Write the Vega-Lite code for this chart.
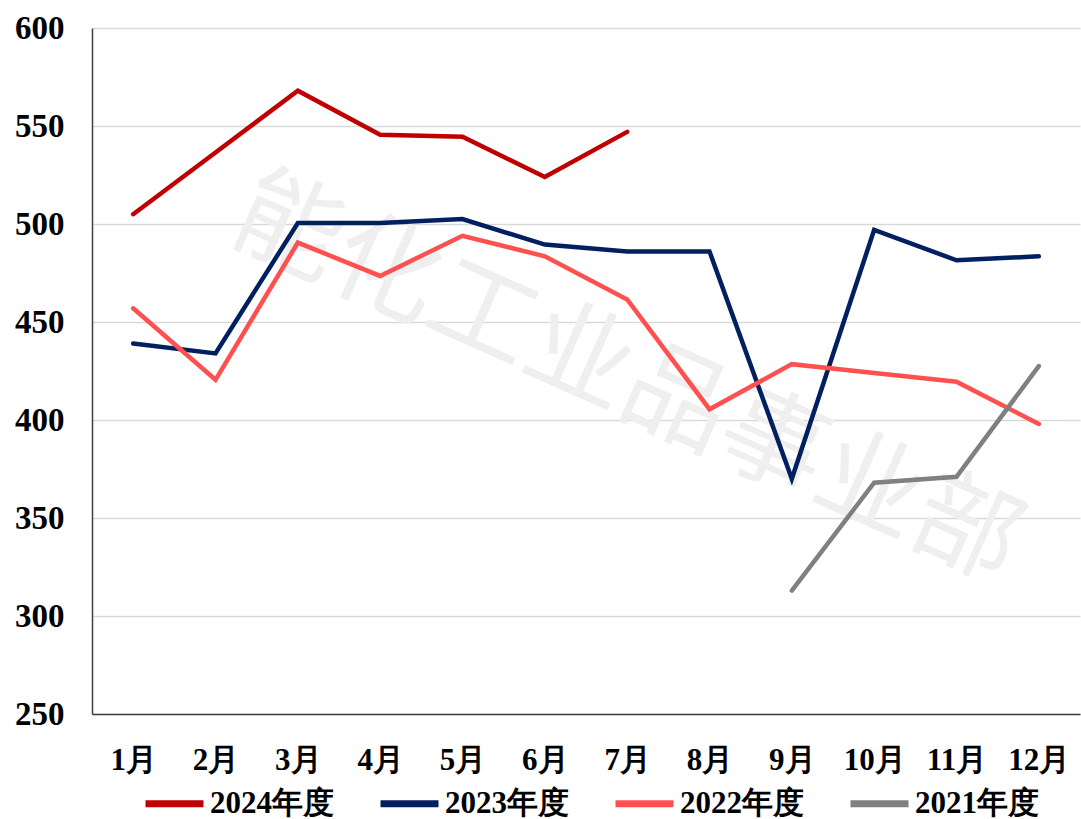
{
  "$schema": "https://vega.github.io/schema/vega-lite/v6.json",
  "width": 988,
  "height": 686,
  "autosize": {"type": "none"},
  "padding": {"left": 92, "top": 28, "right": 1, "bottom": 105},
  "background": "white",
  "config": {
    "view": {"stroke": null},
    "font": "Liberation Serif"
  },
  "datasets": {
    "series": [
      {"month": "1月", "year": "2024年度", "value": 505},
      {"month": "2月", "year": "2024年度", "value": 536.5},
      {"month": "3月", "year": "2024年度", "value": 568},
      {"month": "4月", "year": "2024年度", "value": 545.5},
      {"month": "5月", "year": "2024年度", "value": 544.5},
      {"month": "6月", "year": "2024年度", "value": 524},
      {"month": "7月", "year": "2024年度", "value": 547},
      {"month": "1月", "year": "2023年度", "value": 439},
      {"month": "2月", "year": "2023年度", "value": 434},
      {"month": "3月", "year": "2023年度", "value": 500.5},
      {"month": "4月", "year": "2023年度", "value": 500.5},
      {"month": "5月", "year": "2023年度", "value": 502.5},
      {"month": "6月", "year": "2023年度", "value": 489.5},
      {"month": "7月", "year": "2023年度", "value": 486},
      {"month": "8月", "year": "2023年度", "value": 486},
      {"month": "9月", "year": "2023年度", "value": 370},
      {"month": "10月", "year": "2023年度", "value": 497},
      {"month": "11月", "year": "2023年度", "value": 481.5},
      {"month": "12月", "year": "2023年度", "value": 483.5},
      {"month": "1月", "year": "2022年度", "value": 457},
      {"month": "2月", "year": "2022年度", "value": 420.5},
      {"month": "3月", "year": "2022年度", "value": 490.5},
      {"month": "4月", "year": "2022年度", "value": 473.5},
      {"month": "5月", "year": "2022年度", "value": 494},
      {"month": "6月", "year": "2022年度", "value": 483.5},
      {"month": "7月", "year": "2022年度", "value": 461.5},
      {"month": "8月", "year": "2022年度", "value": 405.5},
      {"month": "9月", "year": "2022年度", "value": 428.5},
      {"month": "10月", "year": "2022年度", "value": 424},
      {"month": "11月", "year": "2022年度", "value": 419.5},
      {"month": "12月", "year": "2022年度", "value": 398},
      {"month": "9月", "year": "2021年度", "value": 313},
      {"month": "10月", "year": "2021年度", "value": 368},
      {"month": "11月", "year": "2021年度", "value": 371},
      {"month": "12月", "year": "2021年度", "value": 427.5}
    ],
    "mark": [
      {"month": "7月", "value": 420, "label": "能化工业品事业部"}
    ]
  },
  "layer": [
    {
      "data": {"name": "mark"},
      "mark": {"type": "text", "angle": 24, "fontSize": 106, "font": "Noto Sans CJK SC", "fontWeight": "normal", "color": "#efefef", "align": "center", "baseline": "middle", "dx": 0},
      "encoding": {
        "x": {"field": "month", "type": "ordinal", "sort": ["1月","2月","3月","4月","5月","6月","7月","8月","9月","10月","11月","12月"]},
        "y": {"field": "value", "type": "quantitative"},
        "text": {"field": "label"}
      }
    },
    {
      "data": {"name": "series"},
      "mark": {"type": "line", "strokeWidth": 4.5, "strokeJoin": "miter", "strokeCap": "round"},
      "encoding": {
        "x": {
          "field": "month", "type": "ordinal",
          "sort": ["1月","2月","3月","4月","5月","6月","7月","8月","9月","10月","11月","12月"],
          "scale": {"type": "point", "padding": 0.5},
          "axis": {
            "title": null, "labelAngle": 0, "labelAlign": "center", "ticks": false, "domain": true,
            "domainColor": "#404040", "domainWidth": 1.5,
            "labelFont": "Liberation Serif", "labelFontSize": 31, "labelFontWeight": "bold",
            "labelColor": "#000000", "labelPadding": 46
          }
        },
        "y": {
          "field": "value", "type": "quantitative",
          "scale": {"domain": [250, 600], "nice": false, "zero": false},
          "axis": {
            "title": null, "values": [250, 300, 350, 400, 450, 500, 550, 600],
            "ticks": false, "domain": true, "domainColor": "#404040", "domainWidth": 1.5,
            "grid": true, "gridColor": "#d9d9d9", "gridWidth": 1.5,
            "labelFont": "Liberation Serif", "labelFontSize": 33, "labelFontWeight": "bold",
            "labelColor": "#000000", "labelPadding": 28
          }
        },
        "color": {
          "field": "year", "type": "nominal",
          "scale": {"domain": ["2024年度", "2023年度", "2022年度", "2021年度"], "range": ["#c00000", "#002060", "#ff5050", "#808080"]},
          "legend": {
            "title": null, "orient": "none", "direction": "horizontal",
            "legendX": 50, "legendY": 743,
            "symbolType": "stroke", "symbolSize": 3364, "symbolStrokeWidth": 7,
            "labelFont": "Liberation Serif", "labelFontSize": 31, "labelFontWeight": "bold",
            "labelColor": "#000000", "columnPadding": 32, "symbolOffset": 0, "labelOffset": 3
          }
        }
      }
    }
  ]
}
